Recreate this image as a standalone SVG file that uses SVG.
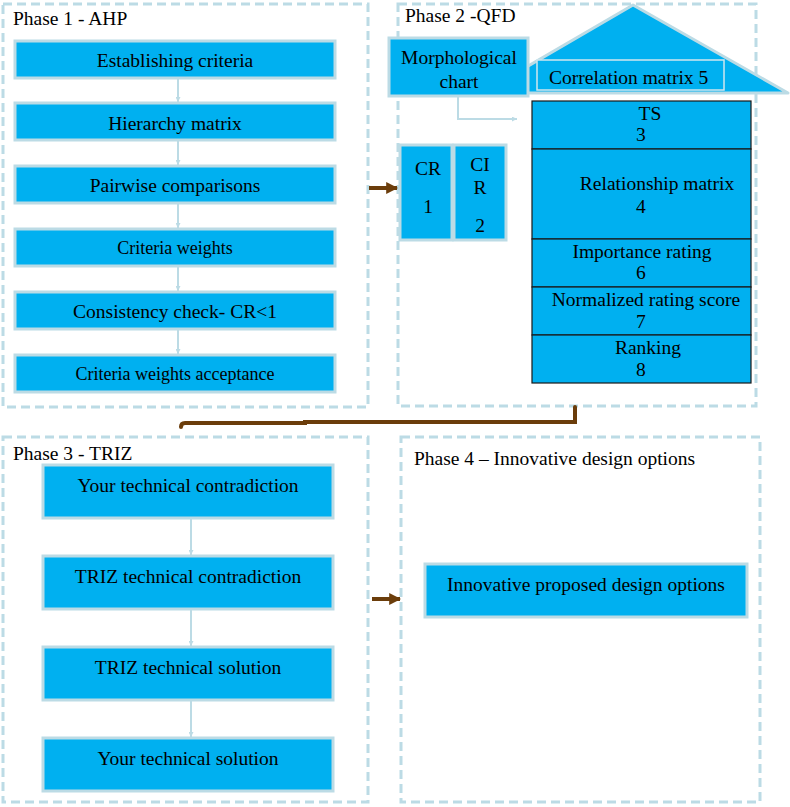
<svg xmlns="http://www.w3.org/2000/svg" width="790" height="807" viewBox="0 0 790 807">
<style>
text{font-family:"Liberation Serif","Times New Roman",serif;font-size:19.5px;fill:#000}
.c{text-anchor:middle}
.phase{fill:none;stroke:#bcdbe5;stroke-width:3;stroke-dasharray:9 5}
.box{fill:#00b0f0;stroke:#bcdbe5;stroke-width:3}
.cell{fill:#00b0f0;stroke:#1a1a1a;stroke-width:1.2}
.lc{fill:none;stroke:#bcdbe5;stroke-width:2}
.bc{fill:none;stroke:#6b3d0b;stroke-width:4}
</style>
<defs>
<marker id="la" viewBox="0 0 10 10" refX="10" refY="5" markerWidth="5" markerHeight="5" orient="auto" markerUnits="userSpaceOnUse"><path d="M0,0 L10,5 L0,10 z" fill="#bcdbe5"/></marker>
<marker id="ba" viewBox="0 0 10 10" refX="9" refY="5" markerWidth="3" markerHeight="3" orient="auto"><path d="M0,0 L10,5 L0,10 z" fill="#6b3d0b"/></marker>
</defs>

<g id="phase1">
<rect class="phase" x="3" y="4" width="365" height="403"/>
<text x="13" y="25">Phase 1 - AHP</text>
</g>
<g id="n-establishing"><rect class="box" x="15" y="41" width="320" height="37"/><text class="c" x="175" y="67">Establishing criteria</text></g>
<g id="n-hierarchy"><rect class="box" x="15" y="103" width="320" height="37"/><text class="c" x="175" y="130">Hierarchy matrix</text></g>
<g id="n-pairwise"><rect class="box" x="15" y="166" width="320" height="37"/><text class="c" x="175" y="192">Pairwise comparisons</text></g>
<g id="n-weights"><rect class="box" x="15" y="229" width="320" height="37"/><text class="c" x="175" y="254" style="font-size:18px">Criteria weights</text></g>
<g id="n-consistency"><rect class="box" x="15" y="292" width="320" height="37"/><text class="c" x="175" y="318">Consistency check- CR&lt;1</text></g>
<g id="n-acceptance"><rect class="box" x="15" y="355" width="320" height="37"/><text class="c" x="175" y="380" style="font-size:18px">Criteria weights acceptance</text></g>

<g id="phase2">
<rect class="phase" x="398" y="4" width="358" height="402"/>
<text x="405" y="22">Phase 2 -QFD</text>
</g>
<g id="n-roof">
<polygon points="633,5 482,93 788,93" fill="#00b0f0" stroke="#bcdbe5" stroke-width="3" stroke-linejoin="round"/>
</g>
<g id="n-correlation"><rect x="537" y="60" width="187" height="30" fill="#00b0f0" stroke="#cfe6ee" stroke-width="1.5"/><text x="549" y="84">Correlation matrix 5</text></g>
<g id="n-morph"><rect class="box" x="389" y="38" width="139" height="58"/><text class="c" x="459" y="64">Morphological</text><text class="c" x="459" y="88">chart</text></g>
<g id="n-qfd">
<rect class="cell" x="532" y="101" width="219" height="48"/>
<text class="c" x="650" y="120">TS</text><text x="636" y="141">3</text>
<rect class="cell" x="532" y="149" width="219" height="90"/>
<text class="c" x="657" y="190">Relationship matrix</text><text x="636" y="213">4</text>
<rect class="cell" x="532" y="239" width="219" height="48"/>
<text class="c" x="642" y="258">Importance rating</text><text x="636" y="279">6</text>
<rect class="cell" x="532" y="287" width="219" height="48"/>
<text class="c" x="646" y="306">Normalized rating score</text><text x="636" y="328">7</text>
<rect class="cell" x="532" y="335" width="219" height="48"/>
<text class="c" x="648" y="354">Ranking</text><text x="636" y="376">8</text>
</g>
<g id="n-cr"><rect class="box" x="400" y="145" width="52" height="95"/><text class="c" x="428" y="175">CR</text><text class="c" x="428" y="213">1</text></g>
<g id="n-cir"><rect class="box" x="454" y="145" width="52" height="95"/><text class="c" x="480" y="171">CI</text><text class="c" x="480" y="194">R</text><text class="c" x="480" y="232">2</text></g>

<g id="phase3">
<rect class="phase" x="3" y="437" width="365" height="365"/>
<text x="13" y="460">Phase 3 - TRIZ</text>
</g>
<g id="n-your-contradiction"><rect class="box" x="43" y="465" width="290" height="53"/><text class="c" x="188" y="492">Your technical contradiction</text></g>
<g id="n-triz-contradiction"><rect class="box" x="43" y="556" width="290" height="53"/><text class="c" x="188" y="583">TRIZ technical contradiction</text></g>
<g id="n-triz-solution"><rect class="box" x="43" y="647" width="290" height="53"/><text class="c" x="188" y="674">TRIZ technical solution</text></g>
<g id="n-your-solution"><rect class="box" x="43" y="738" width="290" height="53"/><text class="c" x="188" y="765">Your technical solution</text></g>

<g id="phase4">
<rect class="phase" x="401" y="437" width="359" height="365"/>
<text x="414" y="465">Phase 4 – Innovative design options</text>
</g>
<g id="n-innovative"><rect class="box" x="425" y="564" width="322" height="53"/><text class="c" x="586" y="591">Innovative proposed design options</text></g>

<g id="connectors">
<line class="lc" x1="178" y1="79" x2="178" y2="102" marker-end="url(#la)"/>
<line class="lc" x1="178" y1="141" x2="178" y2="165" marker-end="url(#la)"/>
<line class="lc" x1="178" y1="204" x2="178" y2="228" marker-end="url(#la)"/>
<line class="lc" x1="178" y1="267" x2="178" y2="291" marker-end="url(#la)"/>
<line class="lc" x1="178" y1="330" x2="178" y2="354" marker-end="url(#la)"/>
<line class="lc" x1="191" y1="519" x2="191" y2="555" marker-end="url(#la)"/>
<line class="lc" x1="191" y1="610" x2="191" y2="646" marker-end="url(#la)"/>
<line class="lc" x1="191" y1="701" x2="191" y2="737" marker-end="url(#la)"/>
<polyline class="lc" points="458,97 458,119 517,119" stroke-width="1.5" marker-end="url(#la)"/>
<line class="bc" x1="369" y1="188" x2="397" y2="188" marker-end="url(#ba)"/>
<line class="bc" x1="372" y1="599" x2="400" y2="599" marker-end="url(#ba)"/>
<path class="bc" d="M575,407 L575,422 L305,422 L305,423 L185,423 Q181,423 181,427" stroke-width="3.5" stroke-linecap="round"/>
</g>
</svg>
